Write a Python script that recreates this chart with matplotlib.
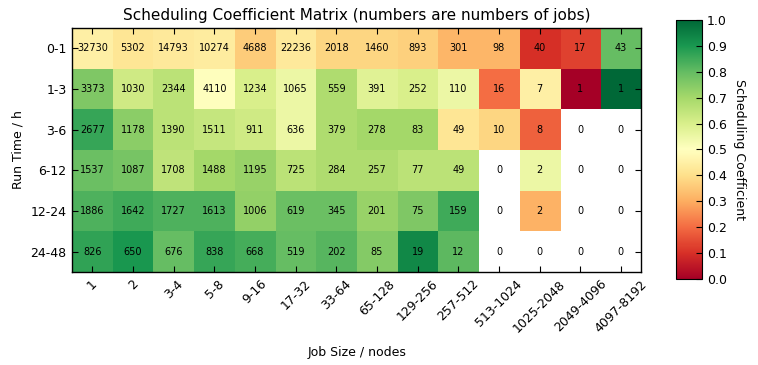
import numpy as np
import matplotlib
matplotlib.use('Agg')
import matplotlib.pyplot as plt

# job size bins (columns) and run time bins (rows)
job_sizes = ['1', '2', '3-4', '5-8', '9-16', '17-32', '33-64', '65-128',
             '129-256', '257-512', '513-1024', '1025-2048', '2049-4096', '4097-8192']
run_times = ['0-1', '1-3', '3-6', '6-12', '12-24', '24-48']

# number of jobs per cell
njobs = np.array([
    [32730, 5302, 14793, 10274, 4688, 22236, 2018, 1460, 893, 301, 98, 40, 17, 43],
    [3373, 1030, 2344, 4110, 1234, 1065, 559, 391, 252, 110, 16, 7, 1, 1],
    [2677, 1178, 1390, 1511, 911, 636, 379, 278, 83, 49, 10, 8, 0, 0],
    [1537, 1087, 1708, 1488, 1195, 725, 284, 257, 77, 49, 0, 2, 0, 0],
    [1886, 1642, 1727, 1613, 1006, 619, 345, 201, 75, 159, 0, 2, 0, 0],
    [826, 650, 676, 838, 668, 519, 202, 85, 19, 12, 0, 0, 0, 0],
])

# scheduling coefficient, nan = no jobs
coef = np.array([
    [0.45, 0.42, 0.43, 0.44, 0.36, 0.43, 0.38, 0.38, 0.37, 0.32, 0.32, 0.10, 0.13, 0.80],
    [0.76, 0.62, 0.66, 0.50, 0.60, 0.55, 0.68, 0.58, 0.60, 0.55, 0.20, 0.45, 0.00, 1.00],
    [0.86, 0.74, 0.66, 0.64, 0.62, 0.55, 0.68, 0.70, 0.70, 0.42, 0.38, 0.18, np.nan, np.nan],
    [0.79, 0.77, 0.65, 0.70, 0.72, 0.66, 0.68, 0.68, 0.66, 0.66, np.nan, 0.55, np.nan, np.nan],
    [0.83, 0.85, 0.83, 0.83, 0.73, 0.79, 0.79, 0.72, 0.76, 0.85, np.nan, 0.31, np.nan, np.nan],
    [0.87, 0.90, 0.80, 0.86, 0.84, 0.80, 0.82, 0.75, 0.93, 0.81, np.nan, np.nan, np.nan, np.nan],
])

plt.rcParams['xtick.direction'] = 'in'
plt.rcParams['ytick.direction'] = 'in'
plt.rcParams['xtick.top'] = True
plt.rcParams['ytick.right'] = True

fig = plt.figure(figsize=(7.58, 3.65), dpi=100)
ax = fig.add_axes([0.095, 0.255, 0.751, 0.668])
cax = fig.add_axes([0.892, 0.236, 0.034, 0.709])

data = np.ma.masked_invalid(coef)
im = ax.imshow(data, cmap='RdYlGn', vmin=0, vmax=1, aspect='auto',
               interpolation='nearest')

for i in range(len(run_times)):
    for j in range(len(job_sizes)):
        ax.text(j, i, str(njobs[i, j]), ha='center', va='center', fontsize=7)

ax.set_xticks(np.arange(len(job_sizes)))
ax.set_xticklabels(job_sizes, rotation=45, fontsize=9)
ax.set_yticks(np.arange(len(run_times)))
ax.set_yticklabels(run_times, fontsize=9)
ax.tick_params(length=4, width=0.8, pad=4)
ax.set_xlabel('Job Size / nodes', fontsize=9, labelpad=8)
ax.set_ylabel('Run Time / h', fontsize=9)
ax.set_title('Scheduling Coefficient Matrix (numbers are numbers of jobs)', fontsize=11)
for s in ax.spines.values():
    s.set_linewidth(1.0)

cb = fig.colorbar(im, cax=cax, ticks=np.arange(0, 1.01, 0.1))
cb.ax.tick_params(labelsize=9, direction='in', length=4, width=0.8)
cb.set_label('Scheduling Coefficient', rotation=270, labelpad=14, fontsize=9)

fig.savefig('out.png', dpi=100)
